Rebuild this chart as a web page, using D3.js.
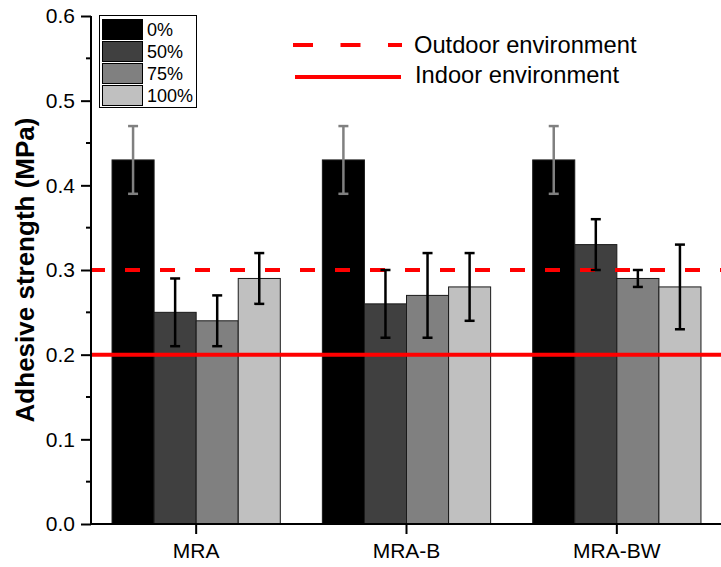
<!DOCTYPE html>
<html><head><meta charset="utf-8">
<script src="https://cdn.jsdelivr.net/npm/d3@7"></script>
<style>body{margin:0;background:#fff}svg{display:block}text{font-family:"Liberation Sans",Arial,sans-serif}</style>
</head><body>
<svg id="c" width="721" height="567"></svg>
<script>
const categories = ["MRA", "MRA-B", "MRA-BW"];
const seriesNames = ["0%", "50%", "75%", "100%"];
const seriesColors = ["#000000", "#404040", "#808080", "#c0c0c0"];
const errColors = ["#808080", "#000000", "#000000", "#000000"];
const values = [
  [0.43, 0.25, 0.24, 0.29],
  [0.43, 0.26, 0.27, 0.28],
  [0.43, 0.33, 0.29, 0.28]
];
const errors = [
  [0.04, 0.04, 0.03, 0.03],
  [0.04, 0.04, 0.05, 0.04],
  [0.04, 0.03, 0.01, 0.05]
];
const yTicks = [0.0, 0.1, 0.2, 0.3, 0.4, 0.5, 0.6];
const outdoorLimit = 0.3, indoorLimit = 0.2;

const svg = d3.select("#c");
const x0 = 91, x1 = 722, yTop = 16, yBot = 524;
const x = d3.scaleBand().domain(categories).range([x0, x1]).paddingInner(0.2).paddingOuter(0.1);
const xs = d3.scaleBand().domain(d3.range(4)).range([0, x.bandwidth()]);
const y = d3.scaleLinear().domain([0, 0.6]).range([yBot, yTop]);
const FF = "Liberation Sans, Arial, sans-serif";

// bars
const g = svg.append("g");
categories.forEach((c, i) => {
  values[i].forEach((v, j) => {
    g.append("rect").attr("x", x(c) + xs(j)).attr("y", y(v))
      .attr("width", xs.bandwidth()).attr("height", y(0) - y(v))
      .attr("fill", seriesColors[j]).attr("stroke", "#1a1a1a").attr("stroke-width", 1);
  });
});

// reference lines
svg.append("line").attr("x1", x0 - 1).attr("x2", x1).attr("y1", y(outdoorLimit)).attr("y2", y(outdoorLimit))
  .attr("stroke", "#ff0000").attr("stroke-width", 4).attr("stroke-dasharray", "15,20");
svg.append("line").attr("x1", x0).attr("x2", x1).attr("y1", y(indoorLimit)).attr("y2", y(indoorLimit))
  .attr("stroke", "#ff0000").attr("stroke-width", 4);

// error bars
categories.forEach((c, i) => {
  values[i].forEach((v, j) => {
    const cx = x(c) + xs(j) + xs.bandwidth() / 2;
    const e = errors[i][j];
    const eg = svg.append("g").attr("stroke", errColors[j]).attr("stroke-width", 2.5);
    eg.append("line").attr("x1", cx).attr("x2", cx).attr("y1", y(v - e)).attr("y2", y(v + e));
    [v - e, v + e].forEach(t => eg.append("line").attr("x1", cx - 5).attr("x2", cx + 5).attr("y1", y(t)).attr("y2", y(t)));
  });
});

// y axis
const ya = svg.append("g").attr("transform", `translate(${x0},0)`)
  .call(d3.axisLeft(y).tickValues(yTicks).tickFormat(d3.format(".1f")).tickSize(10).tickSizeOuter(0));
ya.select(".domain").attr("stroke-width", 2).attr("d", `M0,${yTop}V${yBot}`);
ya.selectAll(".tick line").attr("stroke-width", 2);
ya.selectAll(".tick text").attr("font-size", 21).attr("x", -16).attr("font-family", FF);
const minor = d3.range(0.05, 0.6, 0.1);
ya.selectAll(".minor").data(minor).enter().append("line").attr("class", "minor")
  .attr("x1", -5).attr("x2", 0).attr("y1", d => y(d)).attr("y2", d => y(d)).attr("stroke", "#000").attr("stroke-width", 2);

// x axis
const xa = svg.append("g").attr("transform", `translate(0,${yBot})`)
  .call(d3.axisBottom(x).tickSize(10).tickSizeOuter(0));
xa.select(".domain").attr("stroke-width", 2).attr("d", `M${x0 - 1},0H${x1}`);
xa.selectAll(".tick line").attr("stroke-width", 2);
xa.selectAll(".tick text").attr("font-size", 21).attr("y", 19).attr("font-family", FF);

// y title
svg.append("text").attr("transform", `translate(34,${(yTop + yBot) / 2}) rotate(-90)`)
  .attr("text-anchor", "middle").attr("font-size", 26).attr("font-weight", "bold").text("Adhesive strength (MPa)");

// legend (series)
const lg = svg.append("g");
lg.append("rect").attr("x", 99.5).attr("y", 15.5).attr("width", 97).attr("height", 92)
  .attr("fill", "#fff").attr("stroke", "#000").attr("stroke-width", 1);
seriesNames.forEach((n, j) => {
  const yy = 19 + j * 22;
  lg.append("rect").attr("x", 102.5).attr("y", yy + 0.5).attr("width", 40).attr("height", 20)
    .attr("fill", seriesColors[j]).attr("stroke", "#000").attr("stroke-width", 1);
  lg.append("text").attr("x", 147).attr("y", yy + 16.5).attr("font-size", 18).text(n);
});

// legend (limits)
svg.append("line").attr("x1", 293).attr("x2", 402).attr("y1", 45).attr("y2", 45)
  .attr("stroke", "#ff0000").attr("stroke-width", 4).attr("stroke-dasharray", "20,27.5");
svg.append("text").attr("x", 414).attr("y", 53).attr("font-size", 23.7).text("Outdoor environment");
svg.append("line").attr("x1", 295).attr("x2", 401).attr("y1", 77).attr("y2", 77)
  .attr("stroke", "#ff0000").attr("stroke-width", 4);
svg.append("text").attr("x", 415).attr("y", 83).attr("font-size", 23.7).text("Indoor environment");
</script>
</body></html>
